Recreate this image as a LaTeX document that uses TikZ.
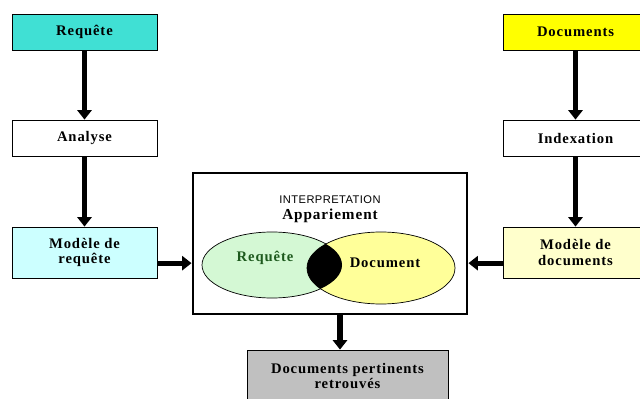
\documentclass[tikz,border=0pt]{standalone}
\usepackage{fontspec}
\setmainfont{Liberation Serif}
\newfontfamily\arialfont[LetterSpace=4]{Liberation Sans}
\newfontfamily\espace[LetterSpace=6]{Liberation Serif}
\usetikzlibrary{arrows.meta,shapes.geometric}
\definecolor{turq}{HTML}{40E0D4}
\definecolor{lcyan}{HTML}{CCFFFF}
\definecolor{jaune}{HTML}{FFFF00}
\definecolor{ljaune}{HTML}{FFFFCC}
\definecolor{gris}{HTML}{C0C0C0}
\definecolor{vertclair}{HTML}{D4F8D4}
\definecolor{jauneclair}{HTML}{FFFF99}
\definecolor{vertfonce}{HTML}{1E5A1E}
\tikzset{
box/.style={draw,line width=0.7pt,minimum width=4.35cm,minimum height=1.08cm,align=center,font=\espace\bfseries\fontsize{12.5}{13}\selectfont},
flow/.style={line width=4.5pt,-{Triangle[length=8pt,width=12pt]}},
bulle/.style={ellipse,draw,line width=0.6pt,inner sep=0pt},
etext/.style={font=\espace\bfseries\fontsize{12.5}{13}\selectfont}
}
\begin{document}
\begin{tikzpicture}[x=0.03cm,y=-0.03cm]
\useasboundingbox (0,0) rectangle (640,399);
\clip (0,0) rectangle (640,399);
\node[box,fill=turq] (req) at (84.5,32) {Requête};
\node[box,fill=white] (ana) at (84.5,138) {Analyse};
\node[box,fill=lcyan,minimum height=1.53cm] (mreq) at (84.5,252.5) {Modèle de\\requête};
\node[box,fill=jaune] (docs) at (575.5,32) {Documents};
\node[box,fill=white] (idx) at (575.5,138) {Indexation};
\node[box,fill=ljaune,minimum height=1.53cm] (mdoc) at (575.5,252.5) {Modèle de\\documents};
\node[draw,line width=2.5pt,minimum width=8.22cm,minimum height=4.23cm] (interp) at (330,243.5) {};
\node[box,fill=gris,minimum width=6.03cm,minimum height=1.56cm] (res) at (347.5,376) {Documents pertinents\\retrouvés};
\node[font=\arialfont\fontsize{9.5}{11}\selectfont] (titre) at (330,200) {INTERPRETATION};
\node[font=\espace\bfseries\fontsize{13}{15}\selectfont] (app) at (330,216) {Appariement};
\node[bulle,fill=vertclair,minimum width=4.2cm,minimum height=1.98cm] (ereq) at (272,265) {};
\node[bulle,fill=jauneclair,minimum width=4.44cm,minimum height=2.16cm] (edoc) at (381,268) {};
\begin{scope}
\clip (272,265) ellipse [x radius=2.1cm,y radius=0.99cm];
\fill (381,268) ellipse [x radius=2.22cm,y radius=1.08cm];
\end{scope}
\node[etext,text=vertfonce] (treq) at (265,258) {Requête};
\node[etext] (tdoc) at (385,263) {Document};
\draw[flow] (req) -- (ana);
\draw[flow] (ana) -- (mreq);
\draw[flow] (docs) -- (idx);
\draw[flow] (idx) -- (mdoc);
\draw[flow] ([yshift=-0.32cm]mreq.east) -- ([yshift=-0.32cm]mreq.east -| interp.west);
\draw[flow] ([yshift=-0.32cm]mdoc.west) -- ([yshift=-0.32cm]mdoc.west -| interp.east);
\draw[flow] ([xshift=0.3cm]interp.south) -- ([xshift=0.3cm]interp.south |- res.north);
\end{tikzpicture}
\end{document}
